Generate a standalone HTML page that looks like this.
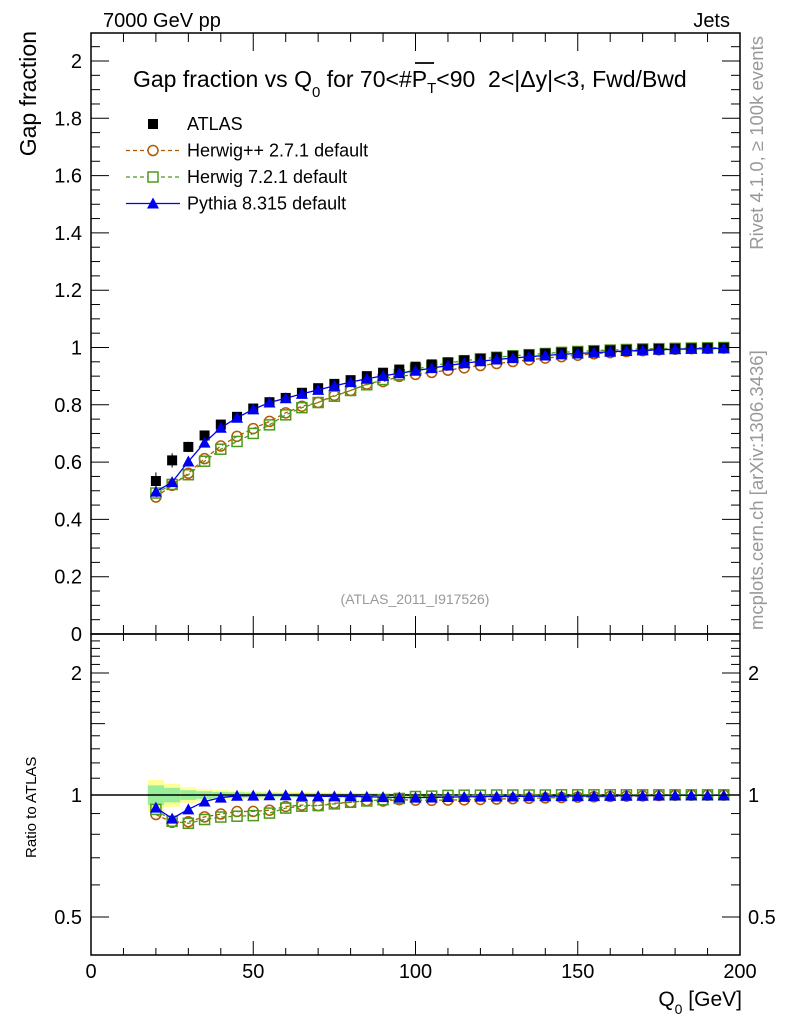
<!DOCTYPE html>
<html><head><meta charset="utf-8"><style>
html,body{margin:0;padding:0;background:#fff}
svg{display:block;font-family:"Liberation Sans",sans-serif}
</style></head><body>
<svg id="c" width="786" height="1024" viewBox="0 0 786 1024" xmlns="http://www.w3.org/2000/svg">
<rect width="786" height="1024" fill="#fff"/>
<g id="bands"></g>
<g id="marks"></g>
<g id="axes"></g>
<text x="103" y="27" font-size="20">7000 GeV pp</text>
<text x="730" y="27" font-size="20" text-anchor="end">Jets</text>
<text x="133" y="87" font-size="23" xml:space="preserve">Gap fraction vs Q<tspan font-size="15" dy="10">0</tspan><tspan dy="-10"> for 70&lt;#P</tspan><tspan font-size="15" dy="6">T</tspan><tspan dy="-6">&lt;90  2&lt;|Δy|&lt;3, Fwd/Bwd</tspan></text>
<line x1="415" y1="63" x2="434" y2="63" stroke="#000" stroke-width="1.8"/>
<text x="415" y="604" font-size="14" fill="#999" text-anchor="middle">(ATLAS_2011_I917526)</text>
<text transform="translate(36,31) rotate(-90)" font-size="23" text-anchor="end">Gap fraction</text>
<text transform="translate(36,858) rotate(-90)" font-size="15">Ratio to ATLAS</text>
<text x="742" y="1006" font-size="21" text-anchor="end">Q<tspan font-size="14" dy="8">0</tspan><tspan dy="-8"> [GeV]</tspan></text>
<text transform="translate(763,36) rotate(-90)" font-size="18.5" fill="#999" text-anchor="end">Rivet 4.1.0, ≥ 100k events</text>
<text transform="translate(763,630) rotate(-90)" font-size="18.5" fill="#999">mcplots.cern.ch [arXiv:1306.3436]</text>
<g id="legend"></g>
</svg>
<script>
const qvals=[20,25,30,35,40,45,50,55,60,65,70,75,80,85,90,95,100,105,110,115,120,125,130,135,140,145,150,155,160,165,170,175,180,185,190,195];
const atlas=[0.534,0.606,0.653,0.693,0.731,0.758,0.787,0.809,0.824,0.842,0.858,0.873,0.886,0.900,0.912,0.923,0.933,0.941,0.948,0.955,0.961,0.966,0.971,0.975,0.979,0.982,0.985,0.988,0.990,0.992,0.994,0.995,0.996,0.997,0.998,0.999];
const atlasErr=[0.03,0.025,0.018,0.015,0.013,0.012,0.011,0.01,0.009,0.009,0.008,0.008,0.007,0.007,0.007,0.006,0.006,0.006,0.005,0.005,0.005,0.005,0.004,0.004,0.004,0.004,0.004,0.003,0.003,0.003,0.003,0.003,0.003,0.003,0.003,0.003];
const herwigpp=[0.478,0.519,0.561,0.612,0.656,0.690,0.717,0.742,0.772,0.795,0.808,0.833,0.850,0.872,0.881,0.899,0.906,0.913,0.921,0.929,0.937,0.944,0.951,0.957,0.963,0.968,0.973,0.978,0.982,0.986,0.989,0.992,0.994,0.996,0.997,0.998];
const herwig7=[0.492,0.522,0.556,0.603,0.645,0.672,0.700,0.730,0.765,0.790,0.808,0.830,0.850,0.870,0.888,0.905,0.925,0.935,0.946,0.954,0.960,0.966,0.971,0.975,0.979,0.983,0.986,0.989,0.991,0.993,0.995,0.996,0.997,0.998,0.999,1.000];
const pythia=[0.497,0.530,0.602,0.668,0.720,0.755,0.784,0.808,0.823,0.838,0.852,0.866,0.879,0.891,0.901,0.910,0.919,0.928,0.937,0.945,0.952,0.958,0.963,0.968,0.972,0.976,0.979,0.982,0.985,0.988,0.990,0.992,0.994,0.995,0.996,0.997];
const yTicks=[0,0.2,0.4,0.6,0.8,1,1.2,1.4,1.6,1.8,2];
const yTickLabels=["0","0.2","0.4","0.6","0.8","1","1.2","1.4","1.6","1.8","2"];
const xTicks=[0,50,100,150,200];
const rTicks=[0.5,1,2];

const NS="http://www.w3.org/2000/svg";
const L=91,R=740,T=33,MID=634,B=955;
const X=v=>L+(R-L)*v/200;
const Y=v=>MID-(MID-61)*v/2;
const RY=r=>795-122*Math.log2(r);
function mk(tag,attrs,parent){const e=document.createElementNS(NS,tag);for(const k in attrs)e.setAttribute(k,attrs[k]);parent.appendChild(e);return e;}
const axes=document.getElementById('axes'),marks=document.getElementById('marks'),bands=document.getElementById('bands'),leg=document.getElementById('legend');

let f1=mk('rect',{x:L,y:T,width:R-L,height:MID-T,fill:'none',stroke:'#000','stroke-width':1.5},axes);


let f2=mk('rect',{x:L,y:MID,width:R-L,height:B-MID,fill:'none',stroke:'#000','stroke-width':1.5},axes);



for(let v=0;v<=200;v+=5){
  const maj=v%50===0, mid=v%10===0;
  const x=X(v);
  mk('line',{x1:x,y1:MID,x2:x,y2:MID-(maj?18:(mid?9:0)),stroke:'#000'},axes);
  mk('line',{x1:x,y1:T,x2:x,y2:T+(maj?18:(mid?9:0)),stroke:'#000'},axes);
  mk('line',{x1:x,y1:B,x2:x,y2:B-(maj?14:(mid?7:0)),stroke:'#000'},axes);
  mk('line',{x1:x,y1:MID,x2:x,y2:MID+(maj?14:(mid?7:0)),stroke:'#000'},axes);
}
xTicks.forEach(v=>{
  const t=mk('text',{x:X(v),y:978,'font-size':20,'text-anchor':'middle'},axes);
  t.textContent=String(v);
  
  
});
for(let i=0;i<=42;i++){
  const v=i*0.05; const y=Y(v); if(y<T) continue;
  const maj=i%4===0;
  mk('line',{x1:L,y1:y,x2:L+(maj?18:9),y2:y,stroke:'#000'},axes);
  mk('line',{x1:R,y1:y,x2:R-(maj?18:9),y2:y,stroke:'#000'},axes);
}
yTicks.forEach((v,i)=>{
  const t=mk('text',{x:82,y:Y(v)+7,'font-size':20,'text-anchor':'end'},axes);
  t.textContent=yTickLabels[i];
  
  
});
const rminor=[0.5,0.6,0.7,0.8,0.9,1,1.1,1.2,1.3,1.4,1.5,1.6,1.7,1.8,1.9,2,2.1,2.2,2.3,2.4];
rminor.forEach(r=>{
  const y=RY(r); if(y<MID||y>B) return;
  const maj=(r===0.5||r===1||r===2);
  const len=maj?18:(r===1.5?14:9);
  mk('line',{x1:L,y1:y,x2:L+len,y2:y,stroke:'#000'},axes);
  mk('line',{x1:R,y1:y,x2:R-len,y2:y,stroke:'#000'},axes);
});
rTicks.forEach(r=>{
  const t=mk('text',{x:82,y:RY(r)+7,'font-size':20,'text-anchor':'end'},axes);
  t.textContent=String(r);
  
  
  const t2=mk('text',{x:748,y:RY(r)+7,'font-size':20},axes);
  t2.textContent=String(r);
  
  
});

qvals.forEach((q,i)=>{
  const e=atlasErr[i]/atlas[i];
  const x0=X(q-2.5),w=X(q+2.5)-x0;
  const by=mk('rect',{x:x0,y:RY(1+e*1.6),width:w,height:RY(1-e*1.6)-RY(1+e*1.6),fill:'#ffff99'},bands);
  
  
  const bg=mk('rect',{x:x0,y:RY(1+e),width:w,height:RY(1-e)-RY(1+e),fill:'#99ee99'},bands);
  
  
});
mk('line',{x1:L,y1:RY(1),x2:R,y2:RY(1),stroke:'#000','stroke-width':1.5},bands);

function series(vals,color,dash,marker,ratio,name){
  const g=mk('g',{},marks);
  
  
  const yf=ratio?(i=>RY(vals[i]/atlas[i])):(i=>Y(vals[i]));
  const pts=qvals.map((q,i)=>X(q)+','+yf(i)).join(' ');
  const pl=mk('polyline',{points:pts,fill:'none',stroke:color,'stroke-width':1.3},g);
  if(dash) pl.setAttribute('stroke-dasharray','4,3');
  qvals.forEach((q,i)=>{
    const x=X(q),y=yf(i);
    let m;
    if(marker==='circle') m=mk('circle',{cx:x,cy:y,r:5,fill:'none',stroke:color,'stroke-width':1.5},g);
    else if(marker==='osq') m=mk('rect',{x:x-5,y:y-5,width:10,height:10,fill:'none',stroke:color,'stroke-width':1.5},g);
    else m=mk('polygon',{points:`${x},${y-6} ${x-6},${y+5} ${x+6},${y+5}`,fill:color},g);
    
    
  });
}
series(herwigpp,'#b35900',true,'circle',false,'herwigpp-series');
series(herwig7,'#4c9a1c',true,'osq',false,'herwig7-series');
const ag=mk('g',{},marks);


qvals.forEach((q,i)=>{
  const x=X(q),y=Y(atlas[i]);
  mk('line',{x1:x,y1:Y(atlas[i]+atlasErr[i]),x2:x,y2:Y(atlas[i]-atlasErr[i]),stroke:'#000'},ag);
  const s=mk('rect',{x:x-5,y:y-5,width:10,height:10,fill:'#000'},ag);
  
  
});
series(pythia,'#0000ee',false,'tri',false,'pythia-series');
series(herwigpp,'#b35900',true,'circle',true,'herwigpp-ratio');
series(herwig7,'#4c9a1c',true,'osq',true,'herwig7-ratio');
series(pythia,'#0000ee',false,'tri',true,'pythia-ratio');

const items=[['ATLAS','#000',null],['Herwig++ 2.7.1 default','#b35900','circle'],['Herwig 7.2.1 default','#4c9a1c','osq'],['Pythia 8.315 default','#0000ee','tri']];
items.forEach((it,i)=>{
  const y=124+i*26.5;
  const g=mk('g',{},leg);
  
  
  const cx=153;
  if(it[2]===null){mk('rect',{x:cx-5,y:y-5,width:10,height:10,fill:'#000'},g);}
  else{
    const l=mk('line',{x1:126,y1:y,x2:180,y2:y,stroke:it[1],'stroke-width':1.3},g);
    if(it[2]!=='tri') l.setAttribute('stroke-dasharray','4,3');
    if(it[2]==='circle') mk('circle',{cx:cx,cy:y,r:5,fill:'#fff',stroke:it[1],'stroke-width':1.5},g);
    else if(it[2]==='osq') mk('rect',{x:cx-5,y:y-5,width:10,height:10,fill:'#fff',stroke:it[1],'stroke-width':1.5},g);
    else mk('polygon',{points:`${cx},${y-6} ${cx-6},${y+5} ${cx+6},${y+5}`,fill:it[1]},g);
  }
  const t=mk('text',{x:187,y:y+6,'font-size':18},g);
  t.textContent=it[0];
});
</script>
</body></html>
